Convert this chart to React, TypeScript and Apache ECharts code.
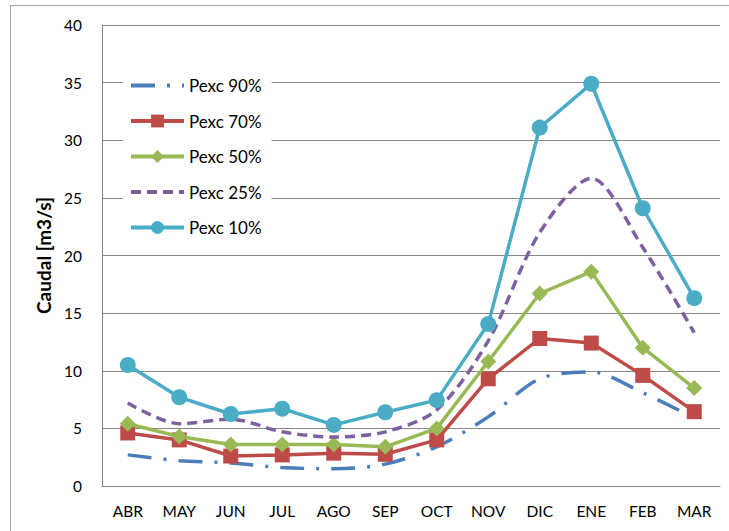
import React, { useEffect, useRef } from "react";
import * as echarts from "echarts";

const categories = ["ABR", "MAY", "JUN", "JUL", "AGO", "SEP", "OCT", "NOV", "DIC", "ENE", "FEB", "MAR"];
const seriesNames = ["Pexc 90%", "Pexc 70%", "Pexc 50%", "Pexc 25%", "Pexc 10%"];
const pexc90 = [2.7, 2.2, 2.0, 1.6, 1.5, 1.9, 3.4, 6.0, 9.3, 9.9, 8.1, 5.9];
const pexc70 = [4.6, 4.0, 2.6, 2.7, 2.85, 2.75, 4.0, 9.3, 12.8, 12.4, 9.6, 6.45];
const pexc50 = [5.4, 4.3, 3.6, 3.6, 3.6, 3.4, 5.0, 10.8, 16.7, 18.6, 12.0, 8.5];
const pexc25 = [7.2, 5.4, 5.8, 4.7, 4.25, 4.7, 6.6, 12.6, 22.0, 26.7, 20.7, 13.3];
const pexc10 = [10.5, 7.7, 6.25, 6.7, 5.3, 6.4, 7.45, 14.05, 31.1, 34.9, 24.1, 16.3];
const yTicks = { min: 0, max: 40, interval: 5 };

const FONT = "Lato";
const colors = ["#4a7ebb", "#be4b48", "#98b954", "#7d60a0", "#4aacc5"];

export default function App() {
  const ref = useRef<HTMLDivElement>(null);
  useEffect(() => {
    document.body.style.margin = "0";
    const chart = echarts.init(ref.current!, null, { renderer: "svg" });
    chart.setOption({
      animation: false,
      backgroundColor: "#ffffff",
      textStyle: { fontFamily: FONT },
      graphic: [
        {
          type: "rect",
          shape: { x: 10.5, y: 5.5, width: 730, height: 540 },
          style: { fill: "none", stroke: "#a6a6a6", lineWidth: 1 },
          silent: true,
          z: 100,
        },
      ],
      grid: { left: 102, right: 9, top: 25, bottom: 45 },
      legend: {
        orient: "vertical",
        left: 123,
        top: 69,
        padding: [8, 10, 8, 6],
        backgroundColor: "#ffffff",
        itemWidth: 53,
        itemHeight: 16,
        itemGap: 18.5,
        textStyle: { fontFamily: FONT, fontSize: 17, color: "#000000" },
        data: [
          { name: seriesNames[0], itemStyle: { opacity: 0 }, lineStyle: { width: 4 } },
          { name: seriesNames[1], lineStyle: { width: 4 } },
          { name: seriesNames[2], lineStyle: { width: 4 } },
          { name: seriesNames[3], itemStyle: { opacity: 0 }, lineStyle: { width: 4 } },
          { name: seriesNames[4], lineStyle: { width: 4 } },
        ],
      },
      xAxis: {
        type: "category",
        data: categories,
        boundaryGap: true,
        axisLine: { lineStyle: { color: "#868686", width: 1 } },
        axisTick: { show: false },
        axisLabel: { color: "#000000", fontSize: 15.5, fontFamily: FONT, margin: 17 },
      },
      yAxis: {
        type: "value",
        min: yTicks.min,
        max: yTicks.max,
        interval: yTicks.interval,
        name: "Caudal [m3/s]",
        nameLocation: "middle",
        nameGap: 44,
        nameTextStyle: { color: "#000000", fontSize: 19, fontWeight: "bold", fontFamily: FONT },
        axisLine: { show: true, lineStyle: { color: "#868686", width: 1 } },
        axisTick: { show: false },
        axisLabel: { color: "#000000", fontSize: 15.5, fontFamily: FONT, margin: 20 },
        splitLine: { lineStyle: { color: "#868686", width: 1 } },
      },
      series: [
        {
          name: seriesNames[0],
          type: "line",
          data: pexc90,
          smooth: 0.3,
          symbol: "none",
          color: colors[0],
          lineStyle: { color: colors[0], width: 3.5, type: [24, 12, 3, 12] },
          z: 1,
        },
        {
          name: seriesNames[1],
          type: "line",
          data: pexc70,
          symbol: "rect",
          symbolSize: 15,
          color: colors[1],
          itemStyle: { color: colors[1] },
          lineStyle: { color: colors[1], width: 3.5 },
          z: 2,
        },
        {
          name: seriesNames[2],
          type: "line",
          data: pexc50,
          symbol: "diamond",
          symbolSize: 16,
          color: colors[2],
          itemStyle: { color: colors[2] },
          lineStyle: { color: colors[2], width: 3.5 },
          z: 3,
        },
        {
          name: seriesNames[3],
          type: "line",
          data: pexc25,
          smooth: 0.3,
          symbol: "none",
          color: colors[3],
          lineStyle: { color: colors[3], width: 3.5, type: [10, 6] },
          z: 4,
        },
        {
          name: seriesNames[4],
          type: "line",
          data: pexc10,
          symbol: "circle",
          symbolSize: 16,
          color: colors[4],
          itemStyle: { color: colors[4] },
          lineStyle: { color: colors[4], width: 3.5 },
          z: 5,
        },
      ],
    });
    return () => chart.dispose();
  }, []);
  return <div ref={ref} style={{ width: 729, height: 531 }} />;
}
